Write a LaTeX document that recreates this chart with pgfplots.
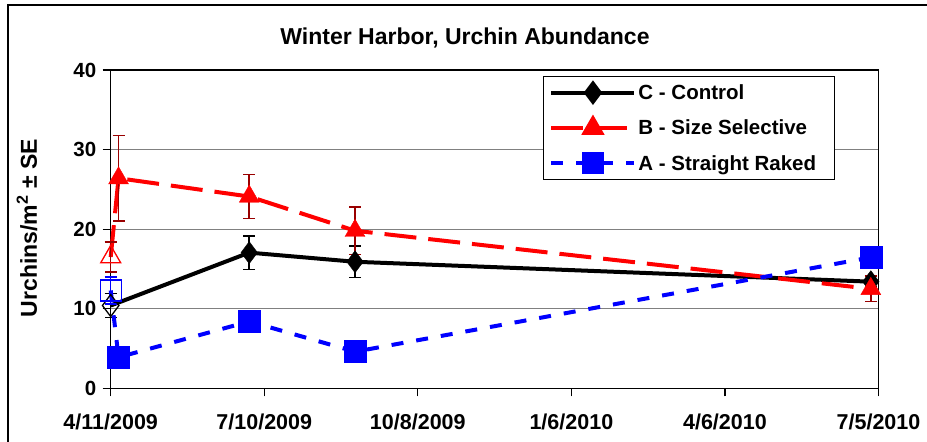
\documentclass[border=0pt]{standalone}
\usepackage{fontspec}
\setmainfont{Liberation Sans}
\usepackage{pgfplots}
\pgfplotsset{compat=1.18}
\definecolor{darkred}{HTML}{990000}
\definecolor{gridgray}{HTML}{808080}
\definecolor{xlred}{HTML}{FF0000}
\definecolor{xlblue}{HTML}{0000FF}

\begin{document}
\begin{tikzpicture}
\useasboundingbox (-110.7pt,-53.7pt) rectangle (816.3pt,388.3pt);
\draw[line width=1.5pt] (-102.7pt,-60pt) -- (-102.7pt,383.3pt) -- (820pt,383.3pt);
\begin{axis}[
  at={(0pt,0pt)}, anchor=south west,
  scale only axis, width=767.8pt, height=318.3pt,
  xmin=0, xmax=450, ymin=0, ymax=40,
  xtick={0,90,180,270,360,450},
  xticklabels={4/11/2009,7/10/2009,10/8/2009,1/6/2010,4/6/2010,7/5/2010},
  ytick={0,10,20,30,40},
  yticklabels={0,10,20,30,40},
  xtick pos=bottom, ytick pos=left,
  tick align=outside, major tick length=8pt,
  every tick/.style={black, line width=1.2pt},
  ymajorgrids, grid style={gridgray, line width=1.2pt},
  axis line style={line width=1.5pt},
  x tick label style={font=\fontsize{21.5}{24}\selectfont\bfseries, anchor=base, yshift=-32.7pt},
  y tick label style={font=\fontsize{20.5}{24}\selectfont\bfseries, xshift=-3pt},
  clip=false,
  legend style={at={(0.9433,0.9811)}, anchor=north east, draw=black, line width=1pt, fill=white,
    font=\fontsize{20.5}{24}\selectfont\bfseries, row sep=15pt, inner ysep=6pt, inner xsep=6pt, cells={anchor=west}},
  legend image code/.code={\draw[mark repeat=2,mark phase=2,#1] plot coordinates {(0pt,0pt) (41.5pt,0pt) (83pt,0pt)};},
]
% ---- C - Control (black)
\addplot[black, line width=4pt, line join=round, forget plot] coordinates {(0,10.4) (81.2,17.05) (143.2,15.9) (445.5,13.4)};
\addplot[black, only marks, mark=diamond, mark size=11pt, mark options={line width=1.3pt, fill=none}, forget plot,
  error bars/.cd, y dir=both, y explicit, error bar style={line width=1.5pt, black},
  error mark options={rotate=90, mark size=6pt, line width=1.5pt, black}]
  coordinates {(0,10.4) +- (0,1.5)};
\addplot[black, only marks, mark=diamond*, mark size=11pt, forget plot,
  error bars/.cd, y dir=both, y explicit, error bar style={line width=1.5pt, black},
  error mark options={rotate=90, mark size=6pt, line width=1.5pt, black}]
  coordinates {(81.2,17.05) +- (0,2.1) (143.2,15.9) +- (0,2.0) (445.5,13.4) +- (0,0.7)};
% ---- B - Size Selective (red)
\addplot[xlred, line width=4pt, dash pattern=on 32pt off 12pt, line join=round, forget plot] coordinates {(0,16.5) (4.6,26.4) (81.2,24.1) (143.2,19.8) (445.5,12.5)};
\addplot[xlred, only marks, mark=triangle, mark size=11.5pt, mark options={line width=1.3pt, fill=none}, forget plot,
  error bars/.cd, y dir=both, y explicit, error bar style={line width=1.5pt, darkred},
  error mark options={rotate=90, mark size=6pt, line width=1.5pt, darkred}]
  coordinates {(0,16.5) +- (0,1.9)};
\addplot[xlred, only marks, mark=triangle*, mark size=11.5pt, forget plot,
  error bars/.cd, y dir=both, y explicit, error bar style={line width=1.5pt, darkred},
  error mark options={rotate=90, mark size=6pt, line width=1.5pt, darkred}]
  coordinates {(4.6,26.4) +- (0,5.4) (81.2,24.1) +- (0,2.75) (143.2,19.8) +- (0,3.0) (445.5,12.5) +- (0,1.6)};
% ---- A - Straight Raked (blue)
\addplot[xlblue, line width=4pt, dash pattern=on 12pt off 13pt, forget plot] coordinates {(0,12.3) (4.6,3.9) (81.2,8.4) (143.2,4.6) (445.5,16.45)};
\addplot[xlblue, only marks, mark=square, mark size=10.5pt, mark options={line width=1.3pt, fill=none}, forget plot,
  error bars/.cd, y dir=both, y explicit, error bar style={line width=1.5pt, xlblue},
  error mark options={rotate=90, mark size=6pt, line width=1.5pt, xlblue}]
  coordinates {(0,12.3) +- (0,1.7)};
\addplot[xlblue, only marks, mark=square*, mark size=11pt, forget plot,
  error bars/.cd, y dir=both, y explicit, error bar style={line width=1.5pt, xlblue},
  error mark options={rotate=90, mark size=6pt, line width=1.5pt, xlblue}]
  coordinates {(4.6,3.9) +- (0,0.8) (81.2,8.4) +- (0,0.8) (143.2,4.6) +- (0,0.8) (445.5,16.45) +- (0,0.9)};
% ---- legend
\addlegendimage{black, line width=4pt, mark=diamond*, mark size=9pt, mark options={solid}}
\addlegendentry{\makebox[188pt][l]{C - Control}}
\addlegendimage{xlred, line width=4pt, dash pattern=on 32pt off 12pt, mark=triangle*, mark size=9.5pt, mark options={solid}}
\addlegendentry{\makebox[188pt][l]{B - Size Selective}}
\addlegendimage{xlblue, line width=4pt, dash pattern=on 12pt off 13pt, mark=square*, mark size=9pt, mark options={solid}}
\addlegendentry{\makebox[188pt][l]{A - Straight Raked}}
\end{axis}
\node[font=\fontsize{23}{26}\selectfont\bfseries, anchor=base] at (354.3pt,344pt) {Winter Harbor, Urchin Abundance};
\node[rotate=90, font=\fontsize{23}{26}\selectfont\bfseries] at (-83.7pt,160pt) {Urchins/m\textsuperscript{2} ± SE};
\end{tikzpicture}
\end{document}
